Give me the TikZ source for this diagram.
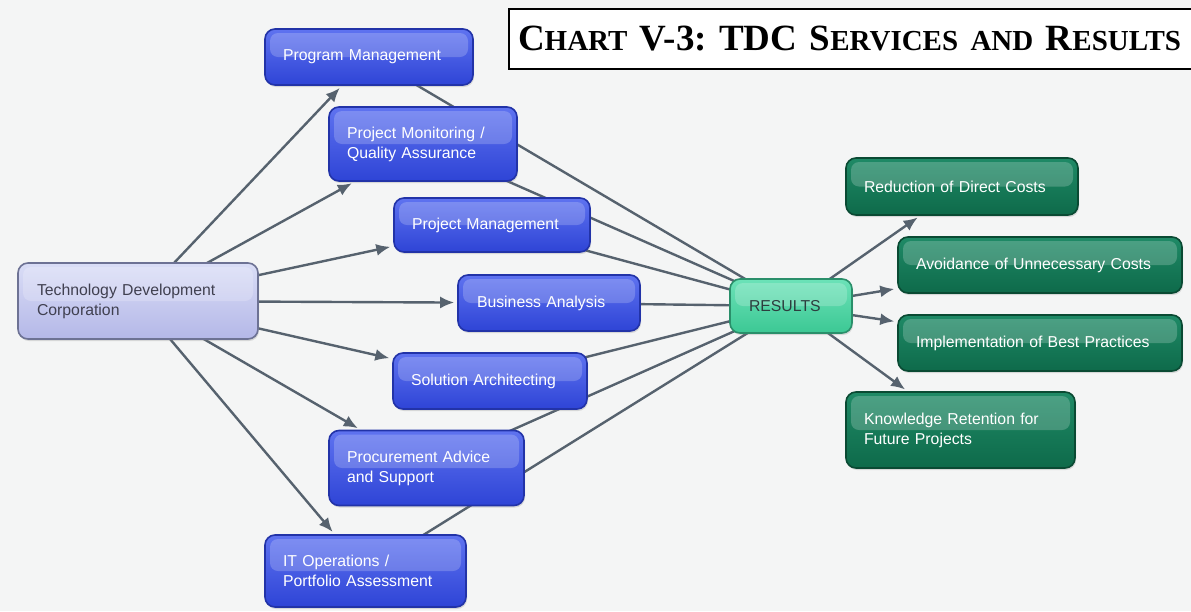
\documentclass[tikz,border=0pt]{standalone}
\usepackage{fontspec}
\setmainfont{Liberation Sans}
\newfontfamily\titlefont{Liberation Serif}
\usetikzlibrary{arrows.meta,shadows}
\pgfdeclarelayer{bg}\pgfsetlayers{bg,main}
\definecolor{bgc}{HTML}{F4F5F5}
\definecolor{linkc}{HTML}{56626E}
\definecolor{bluetop}{HTML}{5F73F0}
\definecolor{bluebot}{HTML}{2E44D6}
\definecolor{blueline}{HTML}{2233A8}
\definecolor{greentop}{HTML}{1F8A66}
\definecolor{greenbot}{HTML}{0E6A4A}
\definecolor{greenline}{HTML}{0A4A33}
\definecolor{restop}{HTML}{6CE2B8}
\definecolor{resbot}{HTML}{3CC894}
\definecolor{resline}{HTML}{2A8F6A}
\definecolor{tdctop}{HTML}{DADDF6}
\definecolor{tdcbot}{HTML}{B4B8E8}
\definecolor{tdcline}{HTML}{6D7294}
\newcommand\mysc[2]{{\fontsize{37}{37}\selectfont #1}{\fontsize{29}{29}\selectfont #2}}
\frenchspacing
\tikzset{
  box/.style={rounded corners=10pt, line width=1.6pt, inner xsep=18pt, inner ysep=0pt,
    align=left, font=\fontsize{15.8}{20}\selectfont,
    drop shadow={opacity=0.25, shadow xshift=1pt, shadow yshift=-2pt},
    path picture={\fill[white,opacity=0.2,rounded corners=8pt]
      ([shift={(5pt,-4pt)}]path picture bounding box.north west) rectangle
      ([shift={(-5pt,0pt)}]path picture bounding box.east);}},
  bluebox/.style={box, draw=blueline, top color=bluetop, bottom color=bluebot, text=white},
  greenbox/.style={box, draw=greenline, top color=greentop, bottom color=greenbot, text=white},
  resbox/.style={box, draw=resline, top color=restop, bottom color=resbot, text={rgb,255:red,45;green,62;blue,62}},
  tdcbox/.style={box, draw=tdcline, top color=tdctop, bottom color=tdcbot, text={rgb,255:red,64;green,64;blue,80}},
  link/.style={draw=linkc, line width=2.4pt},
  arr/.style={link, -{Latex[length=14pt,width=12pt]}, shorten >=3pt},
}
\begin{document}
\begin{tikzpicture}[x=1pt,y=-1pt]
\useasboundingbox (0,0) rectangle (1191,611);
% nodes
\node[tdcbox, text width=202pt, minimum height=76pt, inner xsep=19pt] (tdc) at (138,301) {Technology Development\\Corporation};
\node[bluebox, text width=172pt, minimum height=56pt] (pgm) at (369,57) {Program Management};
\node[bluebox, text width=152pt, minimum height=74pt] (pmqa) at (423,144) {Project Monitoring /\\Quality Assurance};
\node[bluebox, text width=160pt, minimum height=54pt] (prj) at (492,225) {Project Management};
\node[bluebox, text width=144pt, minimum height=56pt, inner xsep=19pt] (ba) at (549,303) {Business Analysis};
\node[bluebox, text width=158pt, minimum height=56pt] (sa) at (490,381) {Solution Architecting};
\node[bluebox, text width=159pt, minimum height=75pt] (proc) at (426.5,468) {Procurement Advice\\and Support};
\node[bluebox, text width=165pt, minimum height=72pt] (itops) at (365.5,571) {IT Operations /\\Portfolio Assessment};
\node[resbox, text width=84pt, minimum height=54pt, inner xsep=19pt] (res) at (791,306) {RESULTS};
\node[greenbox, text width=196pt, minimum height=57pt] (red) at (962,186.5) {Reduction of Direct Costs};
\node[greenbox, text width=248pt, minimum height=56pt] (avo) at (1040,265) {Avoidance of Unnecessary Costs};
\node[greenbox, text width=248pt, minimum height=56pt] (imp) at (1040,343) {Implementation of Best Practices};
\node[greenbox, text width=193pt, minimum height=76pt] (kno) at (960.5,430) {Knowledge Retention for\\Future Projects};
% title
\node[draw=black, line width=2pt, fill=white, anchor=north west, minimum width=690pt, minimum height=60pt,
  text width=672pt, inner xsep=9pt, inner ysep=0pt, align=left, font=\titlefont\bfseries\fontsize{37}{37}\selectfont]
  (title) at (508,8) {\mysc{C}{HART} V-3: TDC \mysc{S}{ERVICES} \mysc{}{AND} \mysc{R}{ESULTS}};
% connectors
\begin{pgfonlayer}{bg}
\fill[bgc] (0,0) rectangle (1191,611);
\foreach \n in {pgm,pmqa,prj,ba,sa,proc,itops} \draw[link] (\n.center) -- (res.center);
\foreach \n in {pgm,pmqa,prj,ba,sa,proc,itops} \draw[arr] (tdc.center) -- (\n);
\foreach \n in {red,avo,imp,kno} \draw[arr] (res.center) -- (\n);
\end{pgfonlayer}
\end{tikzpicture}
\end{document}
